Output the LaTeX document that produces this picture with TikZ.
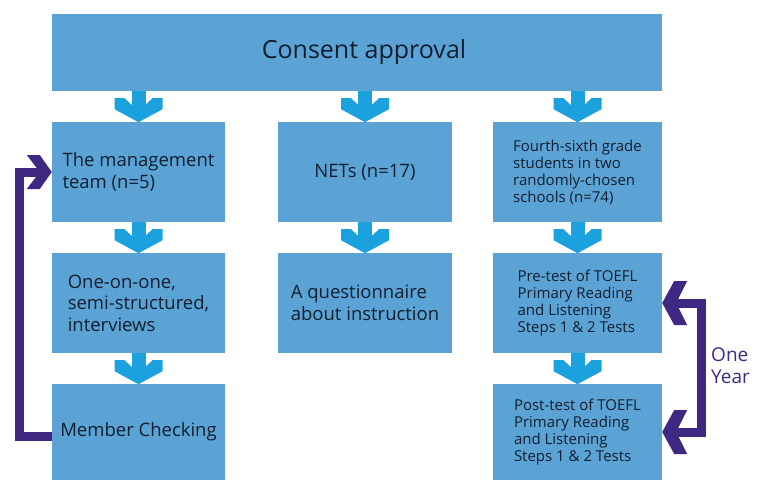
\documentclass[tikz,border=0pt]{standalone}
\usepackage{fontspec}
\setmainfont{Open Sans}
\usetikzlibrary{calc}
\definecolor{boxblue}{RGB}{91,163,213}
\definecolor{chevblue}{RGB}{27,161,222}
\definecolor{purp}{RGB}{62,40,130}
\definecolor{txtdark}{RGB}{18,30,48}
\tikzset{
  blk/.style={fill=boxblue,draw=none,inner sep=0pt,text=txtdark,align=left},
  bigtxt/.style={font=\fontsize{18.5}{21.5}\selectfont},
  smalltxt/.style={font=\fontsize{15}{17}\selectfont},
  purpline/.style={draw=purp,line width=9pt},
  chevron/.pic={
    \fill[chevblue] (-7,0) -- (7,0) -- (7,21) -- (-7,21) -- cycle;
    \fill[chevblue] (-24,7) -- (-14,7) -- (0,20) -- (14,7) -- (24,7) -- (24,18) -- (0,31) -- (-24,18) -- cycle;
  },
  headright/.pic={
    \fill[purp] (0,0) -- (-12,-17) -- (-25,-17) -- (-12,0) -- (-25,17) -- (-12,17) -- cycle;
  },
  headleft/.pic={
    \fill[purp] (0,0) -- (12,-22) -- (25,-22) -- (14,0) -- (25,22) -- (12,22) -- cycle;
  }
}
\begin{document}
\begin{tikzpicture}[x=1pt,y=-1pt]
\useasboundingbox (0,0) rectangle (759,480);
\node[blk,minimum width=610pt,minimum height=77pt,font=\fontsize{25}{30}\selectfont] (top) at (357,52.5) {\hspace*{14pt}Consent approval};
% column 1
\node[blk,bigtxt,minimum width=173pt,minimum height=100pt] (c1r1) at (138.5,172) {The management\\team (n=5)};
\node[blk,bigtxt,minimum width=173pt,minimum height=100pt] (c1r2) at (138.5,303) {One-on-one,\\semi-structured,\\interviews};
\node[blk,bigtxt,minimum width=173pt,minimum height=96pt] (c1r3) at (138.5,432) {Member Checking};
% column 2
\node[blk,bigtxt,minimum width=174pt,minimum height=100pt] (c2r1) at (365,172) {NETs (n=17)};
\node[blk,bigtxt,minimum width=174pt,minimum height=100pt] (c2r2) at (365,303) {A questionnaire\\about instruction};
% column 3
\node[blk,smalltxt,minimum width=169pt,minimum height=100pt] (c3r1) at (577.5,172) {Fourth-sixth grade\\students in two\\randomly-chosen\\schools (n=74)};
\node[blk,smalltxt,minimum width=169pt,minimum height=100pt] (c3r2) at (577.5,303) {Pre-test of TOEFL\\Primary Reading\\and Listening\\Steps 1 \& 2 Tests};
\node[blk,smalltxt,minimum width=169pt,minimum height=96pt] (c3r3) at (577.5,432) {Post-test of TOEFL\\Primary Reading\\and Listening\\Steps 1 \& 2 Tests};
% blue chevrons
\pic at (top.south -| c1r1.north) {chevron};
\pic at (top.south -| c2r1.north) {chevron};
\pic at (top.south -| c3r1.north) {chevron};
\pic at (c1r1.south) {chevron};
\pic at (c1r2.south) {chevron};
\pic at (c2r1.south) {chevron};
\pic at (c3r1.south) {chevron};
\pic at (c3r2.south) {chevron};
% purple left loop
\draw[purpline] ([yshift=-4pt]c1r3.west) -- ++(-32,0) |- ([xshift=-10pt]c1r1.west);
\pic at (c1r1.west) {headright};
% purple right bracket
\draw[purpline] ([xshift=12pt]c3r2.east) -- ++(27,0) |- ([xshift=12pt]c3r3.east);
\pic at (c3r2.east) {headleft};
\pic at (c3r3.east) {headleft};
\node[text=purp,align=left,anchor=west,inner sep=0pt,font=\fontsize{19}{22}\selectfont] (oneyear) at (711,366) {One\\Year};
\end{tikzpicture}
\end{document}
